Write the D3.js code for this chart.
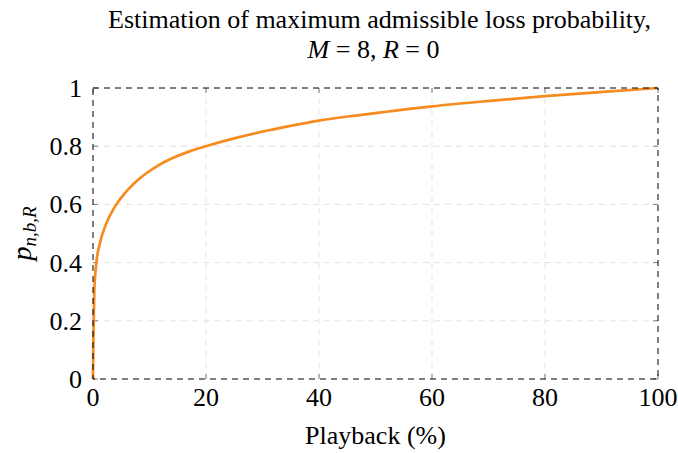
<!DOCTYPE html>
<html lang="en">
<head>
  <meta charset="UTF-8">
  <title>Maximum admissible loss probability</title>
  <style>
    body { margin: 0; background: #fff; }
    svg { display: block; }
    text { font-family: "Liberation Serif", "DejaVu Serif", serif; fill: #000; }
  </style>
</head>
<body>
<div class="chart"></div>
<script src="https://d3js.org/d3.v7.min.js"></script>
<script>
  // values
  let playback = [0, 0.05, 0.12, 0.24, 0.6, 1.2, 2.37, 3.8, 5.4, 8.3, 11.3, 14.2, 17.2, 20, 24.8, 30.7, 36.6, 40, 45.5, 52.6, 60, 70.3, 80, 90.3, 100]
  let lossProb = [0, 0.11, 0.2, 0.306, 0.4, 0.465, 0.535, 0.59, 0.633, 0.69, 0.731, 0.76, 0.783, 0.8, 0.826, 0.853, 0.876, 0.888, 0.903, 0.92, 0.937, 0.956, 0.972, 0.987, 1]
  let xTicks = [0, 20, 40, 60, 80, 100]
  let yTicks = [0, 0.2, 0.4, 0.6, 0.8, 1]

  let width = 678
  let height = 453
  let padL = 93, padR = 20, padT = 88, padB = 74

  let svg = d3.select('.chart').append('svg').attr('width', width).attr('height', height)

  let xScale = d3.scaleLinear().domain([0, 100]).range([padL, width - padR])
  let yScale = d3.scaleLinear().domain([0, 1]).range([height - padB, padT])

  // grid
  let grid = svg.append('g').attr('stroke', '#e3e3e3').attr('stroke-width', 1).attr('stroke-dasharray', '6,5')
  grid.selectAll('.gx').data(xTicks.slice(1, -1)).enter().append('line')
    .attr('x1', d => xScale(d)).attr('x2', d => xScale(d))
    .attr('y1', yScale(0)).attr('y2', yScale(1))
  grid.selectAll('.gy').data(yTicks.slice(1, -1)).enter().append('line')
    .attr('x1', xScale(0)).attr('x2', xScale(100))
    .attr('y1', d => yScale(d)).attr('y2', d => yScale(d))

  // inner ticks on all four sides
  let tickLen = 5
  let ticks = svg.append('g').attr('stroke', '#808080').attr('stroke-width', 1)
  xTicks.forEach(d => {
    ticks.append('line').attr('x1', xScale(d)).attr('x2', xScale(d)).attr('y1', yScale(0)).attr('y2', yScale(0) - tickLen)
    ticks.append('line').attr('x1', xScale(d)).attr('x2', xScale(d)).attr('y1', yScale(1)).attr('y2', yScale(1) + tickLen)
  })
  yTicks.forEach(d => {
    ticks.append('line').attr('x1', xScale(0)).attr('x2', xScale(0) + tickLen).attr('y1', yScale(d)).attr('y2', yScale(d))
    ticks.append('line').attr('x1', xScale(100)).attr('x2', xScale(100) - tickLen).attr('y1', yScale(d)).attr('y2', yScale(d))
  })

  // curve
  let line = d3.line()
    .x((d, i) => xScale(playback[i]))
    .y(d => yScale(d))
    .curve(d3.curveMonotoneX)
  svg.append('path').datum(lossProb)
    .attr('d', line)
    .attr('fill', 'none')
    .attr('stroke', '#f68b1f')
    .attr('stroke-width', 2.7)

  // dashed frame
  svg.append('rect')
    .attr('x', xScale(0)).attr('y', yScale(1))
    .attr('width', xScale(100) - xScale(0)).attr('height', yScale(0) - yScale(1))
    .attr('fill', 'none').attr('stroke', '#000').attr('stroke-width', 1)
    .attr('stroke-dasharray', '6,5')

  // tick labels
  svg.selectAll('.xl').data(xTicks).enter().append('text')
    .attr('x', d => xScale(d)).attr('y', yScale(0) + 27)
    .attr('text-anchor', 'middle').style('font-size', '26px')
    .text(d => d)
  svg.selectAll('.yl').data(yTicks).enter().append('text')
    .attr('x', xScale(0) - 11).attr('y', d => yScale(d) + 9)
    .attr('text-anchor', 'end').style('font-size', '26px')
    .text(d => d)

  // axis titles
  svg.append('text')
    .attr('x', (xScale(0) + xScale(100)) / 2).attr('y', 444)
    .attr('text-anchor', 'middle').style('font-size', '26px')
    .text('Playback (%)')

  let yl = svg.append('text')
    .attr('transform', 'translate(31,' + ((yScale(0) + yScale(1)) / 2) + ') rotate(-90)')
    .attr('text-anchor', 'middle').style('font-size', '28px').style('font-style', 'italic')
  yl.append('tspan').text('p')
  yl.append('tspan').attr('dy', 5).style('font-size', '19px').text('n,b,R')

  // title
  let cx = (xScale(0) + xScale(100)) / 2
  svg.append('text').attr('x', cx + 4).attr('y', 28)
    .attr('text-anchor', 'middle').style('font-size', '26px')
    .text('Estimation of maximum admissible loss probability,')
  let t2 = svg.append('text').attr('x', cx - 2).attr('y', 58)
    .attr('text-anchor', 'middle').style('font-size', '26px')
  t2.append('tspan').style('font-style', 'italic').text('M')
  t2.append('tspan').text(' = 8, ')
  t2.append('tspan').style('font-style', 'italic').text('R')
  t2.append('tspan').text(' = 0')
</script>
</body>
</html>
